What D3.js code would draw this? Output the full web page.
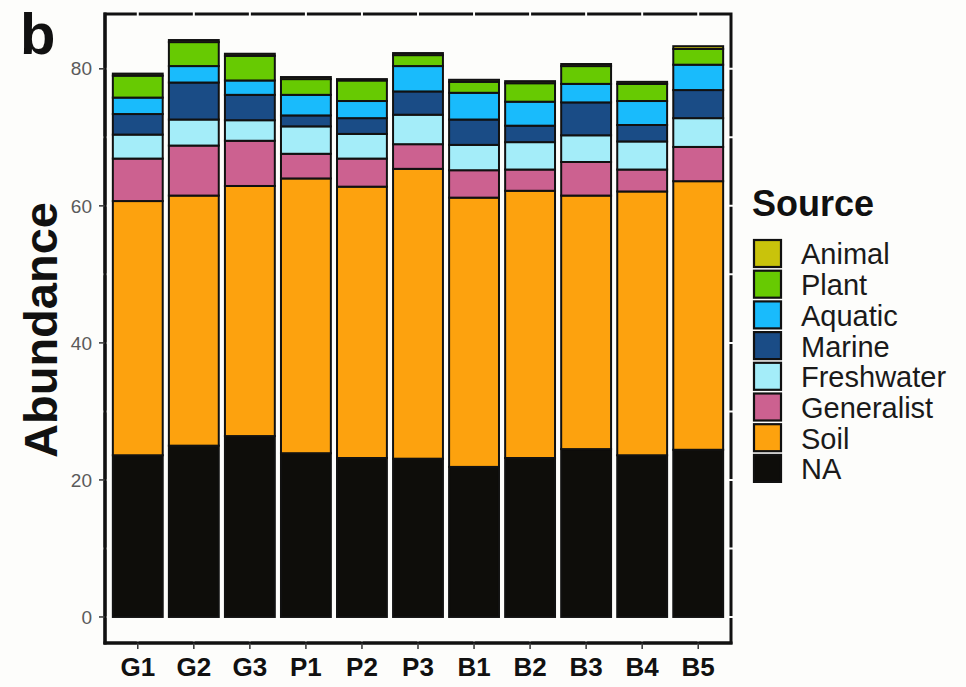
<!DOCTYPE html>
<html><head><meta charset="utf-8">
<script src="https://cdn.jsdelivr.net/npm/d3@7"></script>
<style>html,body{margin:0;padding:0;background:#fdfdfb;}svg{display:block;}</style>
</head><body>
<svg id="chart" width="966" height="687"></svg>
<script>
const samples = ["G1","G2","G3","P1","P2","P3","B1","B2","B3","B4","B5"];
// stacking order bottom -> top
const sources = ["NA","Soil","Generalist","Freshwater","Marine","Aquatic","Plant","Animal"];
const NA         = [23.6,25.0,26.4,23.9,23.2,23.1,21.9,23.2,24.5,23.6,24.4];
const Soil       = [37.1,36.5,36.5,40.1,39.6,42.3,39.3,39.0,37.0,38.5,39.2];
const Generalist = [6.2,7.3,6.6,3.6,4.1,3.6,4.0,3.1,4.9,3.2,5.0];
const Freshwater = [3.5,3.8,3.0,4.0,3.6,4.3,3.7,4.0,3.9,4.1,4.2];
const Marine     = [3.0,5.4,3.7,1.6,2.3,3.4,3.7,2.4,4.8,2.4,4.1];
const Aquatic    = [2.4,2.4,2.1,3.0,2.5,3.7,3.9,3.5,2.7,3.5,3.7];
const Plant      = [3.2,3.5,3.6,2.3,3.0,1.6,1.6,2.7,2.6,2.5,2.3];
const Animal     = [0.3,0.3,0.3,0.3,0.2,0.3,0.3,0.3,0.3,0.3,0.4];
const yTicks = [0,20,40,60,80];
const yGrid = [0,10,20,30,40,50,60,70,80];
const legendOrder = ["Animal","Plant","Aquatic","Marine","Freshwater","Generalist","Soil","NA"];

const colors = {
  Animal:"#c9c30b", Plant:"#67ca02", Aquatic:"#19bbfc", Marine:"#1a4c86",
  Freshwater:"#a4edf9", Generalist:"#cc6190", Soil:"#fda20e", NA:"#0e0d0a"
};
const seriesData = {NA,Soil,Generalist,Freshwater,Marine,Aquatic,Plant,Animal};
const table = samples.map((s,i)=>{const o={sample:s}; sources.forEach(k=>o[k]=seriesData[k][i]); return o;});

const svg = d3.select("#chart");
const L=105, R=731, T=14, B=643;
const x = d3.scaleBand().domain(samples).range([L,R]).paddingInner(0.11).paddingOuter(0.14);
const y = d3.scaleLinear().domain([-3.8,88.0]).range([B,T]);
const FONT = "Liberation Sans, Arial, sans-serif";

// panel border
svg.append("rect").attr("x",L).attr("y",T).attr("width",R-L).attr("height",B-T)
  .attr("fill","none").attr("stroke","#111").attr("stroke-width",3);
// white grid lines cutting through border
const g = svg.append("g");
g.selectAll("line.h").data(yGrid).join("line")
  .attr("x1",L-3).attr("x2",R+3).attr("y1",d=>y(d)).attr("y2",d=>y(d))
  .attr("stroke","#fdfdfb").attr("stroke-width",2);
g.selectAll("line.v").data(samples).join("line")
  .attr("y1",T-3).attr("y2",B+3).attr("x1",d=>x(d)+x.bandwidth()/2).attr("x2",d=>x(d)+x.bandwidth()/2)
  .attr("stroke","#fdfdfb").attr("stroke-width",2);

// bars
const stack = d3.stack().keys(sources)(table);
svg.append("g").selectAll("g").data(stack).join("g")
  .attr("fill",d=>colors[d.key])
  .selectAll("rect").data(d=>d).join("rect")
  .attr("x",d=>x(d.data.sample)).attr("width",x.bandwidth())
  .attr("y",d=>y(d[1])).attr("height",d=>y(d[0])-y(d[1]))
  .attr("stroke","#111").attr("stroke-width",2);

// axes lines (left & bottom)
svg.append("line").attr("x1",L).attr("x2",L).attr("y1",T-1.5).attr("y2",B+1.5).attr("stroke","#111").attr("stroke-width",3.2);
svg.append("line").attr("x1",L-1.5).attr("x2",R+1.5).attr("y1",B).attr("y2",B).attr("stroke","#111").attr("stroke-width",3.2);

// y ticks
const yAxis = svg.append("g");
yAxis.selectAll("line").data(yTicks).join("line")
  .attr("x1",L-6).attr("x2",L).attr("y1",d=>y(d)).attr("y2",d=>y(d))
  .attr("stroke","#333").attr("stroke-width",1.5);
yAxis.selectAll("text").data(yTicks).join("text")
  .attr("x",L-13).attr("y",d=>y(d)).attr("dy","0.35em").attr("text-anchor","end")
  .attr("font-family",FONT).attr("font-size",19)
  .attr("fill","#5a5a5a").text(d=>d);

// x ticks
const xAxis = svg.append("g");
xAxis.selectAll("line").data(samples).join("line")
  .attr("x1",d=>x(d)+x.bandwidth()/2).attr("x2",d=>x(d)+x.bandwidth()/2)
  .attr("y1",B).attr("y2",B+6).attr("stroke","#333").attr("stroke-width",1.5);
xAxis.selectAll("text").data(samples).join("text")
  .attr("x",d=>x(d)+x.bandwidth()/2).attr("y",676).attr("text-anchor","middle")
  .attr("font-family",FONT).attr("font-size",26).attr("font-weight","bold")
  .attr("fill","#111").text(d=>d);

// y title
svg.append("text").attr("transform","translate(57,330) rotate(-90)").attr("text-anchor","middle")
  .attr("font-family",FONT).attr("font-size",47).attr("font-weight","bold")
  .attr("fill","#111").text("Abundance");

// panel tag
svg.append("text").attr("x",20).attr("y",54)
  .attr("font-family",FONT).attr("font-size",58).attr("font-weight","bold")
  .attr("fill","#111").text("b");

// legend
const lg = svg.append("g");
lg.append("text").attr("x",752).attr("y",216)
  .attr("font-family",FONT).attr("font-size",36).attr("font-weight","bold")
  .attr("fill","#111").text("Source");
const rowH = 30.7, top0 = 239;
lg.selectAll("rect").data(legendOrder).join("rect")
  .attr("x",754).attr("y",(d,i)=>top0+i*rowH+1).attr("width",27).attr("height",27)
  .attr("fill",d=>colors[d]).attr("stroke","#111").attr("stroke-width",2.2);
lg.selectAll("text.l").data(legendOrder).join("text").attr("class","l")
  .attr("x",801).attr("y",(d,i)=>top0+i*rowH+15).attr("dy","0.36em")
  .attr("font-family",FONT).attr("font-size",29)
  .attr("fill","#1a1a1a").text(d=>d);
</script>
</body></html>
